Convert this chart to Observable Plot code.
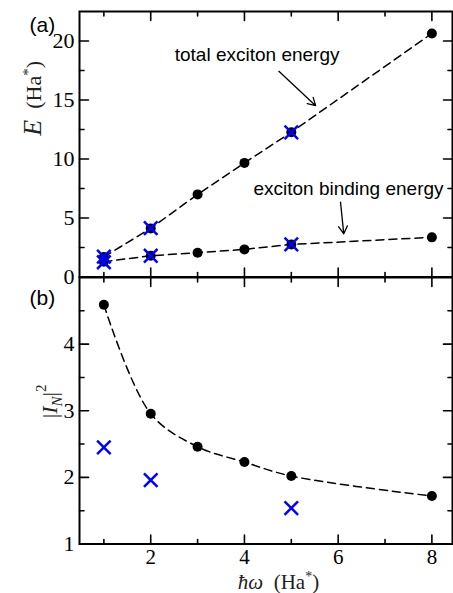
<!DOCTYPE html>
<html><head><meta charset="utf-8">
<script src="https://cdn.jsdelivr.net/npm/d3@7"></script>
<script src="https://cdn.jsdelivr.net/npm/@observablehq/plot@0.6"></script>
<style>
body{margin:0;background:#fff;}
#wrap{position:relative;width:453px;height:593px;overflow:hidden;}
#wrap svg{position:absolute;left:0;overflow:visible;}
</style></head><body><div id="wrap"></div>
<script>
// ---- data ----
const omega = [1, 2, 3, 4, 5, 8];
const totalEnergy = [1.7, 4.12, 7.0, 9.67, 12.27, 20.64];
const bindingEnergy = [1.3, 1.8, 2.06, 2.34, 2.76, 3.36];
const omegaX = [1, 2, 5];
const totalEnergyX = [1.72, 4.15, 12.25];
const bindingEnergyX = [1.25, 1.8, 2.76];
const overlap = [4.59, 2.955, 2.46, 2.23, 2.02, 1.72];
const overlapX = [2.45, 1.96, 1.54];
const xMajor = [2, 4, 6, 8], xMinor = [1, 3, 5, 7];
const yMajorA = [0, 5, 10, 15, 20], yMinorA = [2.5, 7.5, 12.5, 17.5];
const yMajorB = [1, 2, 3, 4], yMinorB = [1.5, 2.5, 3.5, 4.5];
const annotations = [
  {x: 4.27, y: 18.79, text: "total exciton energy"},
  {x: 6.22, y: 7.49, text: "exciton binding energy"}
];
const arrows = [
  {x1: 4.735, y1: 17.43, x2: 5.52, y2: 14.52},
  {x1: 6.05, y1: 6.34, x2: 6.12, y2: 3.66}
];

const dataA = omega.map((w, i) => ({w, total: totalEnergy[i], binding: bindingEnergy[i]}));
const dataAX = omegaX.map((w, i) => ({w, total: totalEnergyX[i], binding: bindingEnergyX[i]}));
const dataB = omega.map((w, i) => ({w, v: overlap[i]}));
const dataBX = omegaX.map((w, i) => ({w, v: overlapX[i]}));

const xDomain = [0.48, 8.44];
const serif = "'Liberation Serif', 'DejaVu Serif', serif";
const sans = "'Liberation Sans', Arial, sans-serif";

const tickShape = {draw(ctx, l) { ctx.moveTo(0, 0); ctx.lineTo(0, -l); }};
function ticks(values, dim, len) {
  const s = {stroke: "black", strokeWidth: 1.6, length: len, anchor: "start", shape: tickShape};
  if (dim === "x") return [
    Plot.vector(values, {x: d => d, frameAnchor: "bottom", rotate: 0, ...s}),
    Plot.vector(values, {x: d => d, frameAnchor: "top", rotate: 180, ...s})
  ];
  return [
    Plot.vector(values, {y: d => d, frameAnchor: "left", rotate: 90, ...s}),
    Plot.vector(values, {y: d => d, frameAnchor: "right", rotate: -90, ...s})
  ];
}
function yLabels(values) {
  return Plot.text(values, {y: d => d, frameAnchor: "left", dx: -5, textAnchor: "end", lineAnchor: "middle", text: d => String(d),
    fontFamily: serif, fontSize: 22, fill: "black"});
}

function rich(svg, content, parts) {
  d3.select(svg).selectAll("text").filter(function() { return this.textContent === content; })
    .each(function() {
      const t = d3.select(this); t.text(null);
      parts.forEach(([s, a]) => { const ts = t.append("tspan").text(s); for (const k in a) ts.attr(k, a[k]); });
    });
}

const wrap = document.getElementById("wrap");

// ---- panel (b) ----
const plotB = Plot.plot({
  width: 453, height: 316.5, marginTop: 0, marginLeft: 79, marginRight: 1, marginBottom: 50,
  x: {domain: xDomain, axis: null},
  y: {domain: [1, 5], axis: null},
  style: {background: "white", fontFamily: serif, fontSize: "22px"},
  marks: [
    Plot.frame({stroke: "black", strokeWidth: 2}),
    ...ticks(xMajor, "x", 9), ...ticks(xMinor, "x", 4.5),
    ...ticks(yMajorB, "y", 9), ...ticks(yMinorB, "y", 4.5),
    yLabels(yMajorB),
    Plot.text(xMajor, {x: d => d, frameAnchor: "bottom", lineAnchor: "middle", dy: 13.5, text: d => String(d), fontFamily: serif, fontSize: 21, fill: "black"}),
    Plot.line(dataB, {x: "w", y: "v", stroke: "black", strokeWidth: 1.5, strokeDasharray: "8,5", curve: "catmull-rom"}),
    Plot.dot(dataB, {x: "w", y: "v", r: 5, fill: "black"}),
    Plot.dot(dataBX, {x: "w", y: "v", symbol: "times", r: 6.2, stroke: "#0000ff", strokeWidth: 2.5}),
    Plot.text(["(b)"], {frameAnchor: "top-left", lineAnchor: "middle", dx: -50, dy: 20.5, text: d => d, fontFamily: sans, fontSize: 21, fill: "black"}),
    Plot.text(["|IN|2"], {frameAnchor: "left", dx: -30, dy: 7.5, rotate: -90, text: d => d, fontFamily: serif, fontSize: 22, fill: "#222"}),
    Plot.text(["ħω (Ha*)"], {frameAnchor: "bottom", lineAnchor: "middle", dx: 12.5, dy: 37.8, text: d => d, fontFamily: serif, fontSize: 21, fill: "#222"})
  ]
});
rich(plotB, "|IN|2", [["|", {}], ["I", {"font-style": "italic"}], ["N", {"font-style": "italic", "font-size": 15, dy: 5}], ["|", {dy: -5}], ["2", {"font-size": 15, dy: -11}]]);
rich(plotB, "ħω (Ha*)", [["ħω", {"font-style": "italic"}], ["  (Ha", {}], ["*", {"font-size": 14, dy: -8}], [")", {dy: 8}]]);
plotB.style.top = "276.5px";
wrap.appendChild(plotB);

// ---- panel (a) ----
const plotA = Plot.plot({
  width: 453, height: 300, marginTop: 11, marginLeft: 79, marginRight: 1, marginBottom: 23.5,
  x: {domain: xDomain, axis: null},
  y: {domain: [0, 22.5], axis: null},
  style: {background: "transparent", fontFamily: serif, fontSize: "22px"},
  marks: [
    Plot.frame({stroke: "black", strokeWidth: 2}),
    ...ticks(xMajor, "x", 9), ...ticks(xMinor, "x", 4.5),
    ...ticks(yMajorA, "y", 9), ...ticks(yMinorA, "y", 4.5),
    yLabels(yMajorA),
    Plot.line(dataA, {x: "w", y: "total", stroke: "black", strokeWidth: 1.5, strokeDasharray: "8,5"}),
    Plot.line(dataA, {x: "w", y: "binding", stroke: "black", strokeWidth: 1.5, strokeDasharray: "8,5"}),
    Plot.dot(dataA, {x: "w", y: "total", r: 5, fill: "black"}),
    Plot.dot(dataA, {x: "w", y: "binding", r: 5, fill: "black"}),
    Plot.dot(dataAX, {x: "w", y: "total", symbol: "times", r: 6.2, stroke: "#0000ff", strokeWidth: 2.5}),
    Plot.dot(dataAX, {x: "w", y: "binding", symbol: "times", r: 6.2, stroke: "#0000ff", strokeWidth: 2.5}),
    Plot.text(annotations, {x: "x", y: "y", text: "text", fontFamily: sans, fontSize: 19, fill: "black"}),
    Plot.arrow(arrows, {x1: "x1", y1: "y1", x2: "x2", y2: "y2", stroke: "black", strokeWidth: 1.3, headLength: 10}),
    Plot.text(["(a)"], {frameAnchor: "top-left", lineAnchor: "middle", dx: -50, dy: 14, text: d => d, fontFamily: sans, fontSize: 21, fill: "black"}),
    Plot.text(["E (Ha*)"], {frameAnchor: "left", dx: -46, dy: -8.6, rotate: -90, text: d => d, fontFamily: serif, fontSize: 22, fill: "#222"})
  ]
});
rich(plotA, "E (Ha*)", [["E", {"font-style": "italic", "font-size": 26}], ["  (Ha", {}], ["*", {"font-size": 15, dy: -8}], [")", {dy: 8}]]);
plotA.style.top = "0px";
wrap.appendChild(plotA);
</script></body></html>
